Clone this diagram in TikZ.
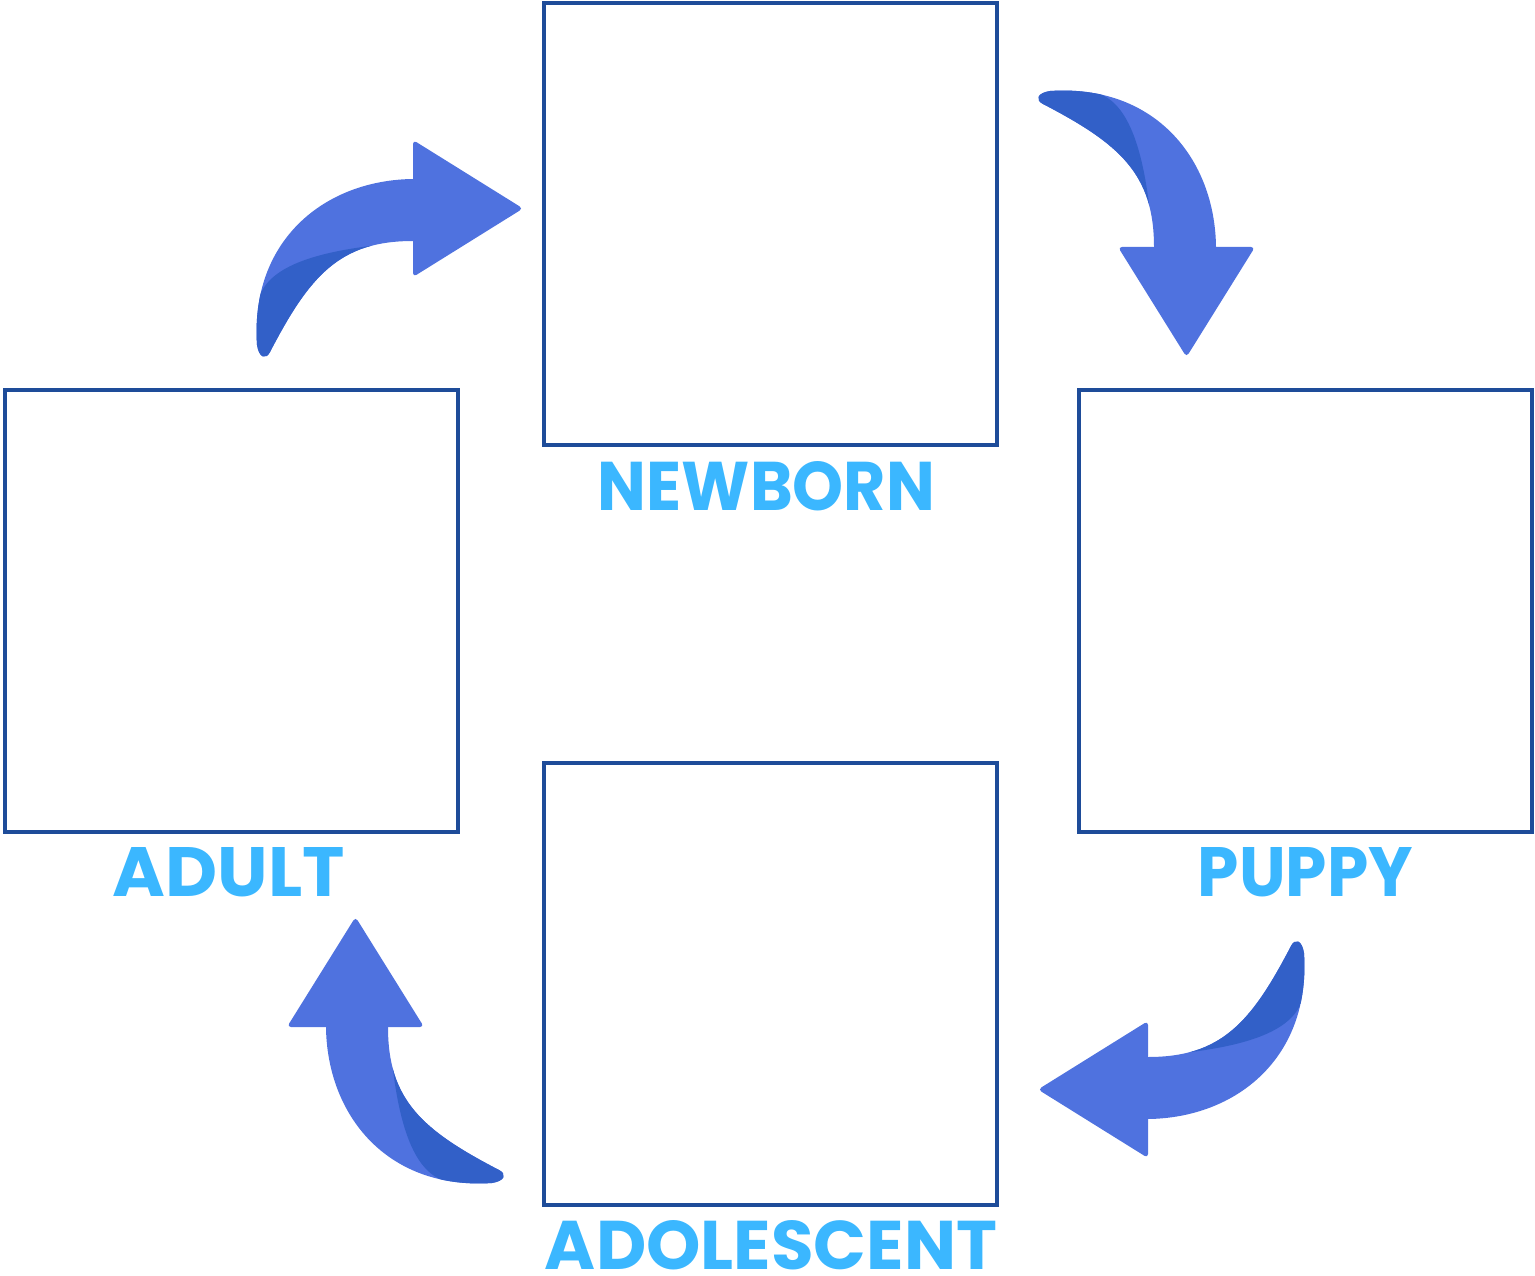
\documentclass[tikz,border=0pt]{standalone}
\usepackage{fontspec}
\setmainfont{Poppins}
\usepackage{graphicx}
\definecolor{arrowlight}{HTML}{4F72DF}
\definecolor{arrowdark}{HTML}{3260C8}
\definecolor{labelblue}{HTML}{3BB7FF}
\definecolor{boxblue}{HTML}{1E4C99}
\newcommand\lifeshaft{(257,345) .. controls (250,240) and (325,180) .. (413,179) -- (420,179) -- (420,241) -- (413,241) .. controls (340,241) and (310,275) .. (270,352) .. controls (266,360) and (259,358) .. (257,345) -- cycle}
\newcommand\lifearrow{%
  \fill[arrowlight] \lifeshaft;
  \fill[arrowlight, rounded corners=4pt] (413,140) -- (523,208.5) -- (413,277) -- cycle;
  \begin{scope}
    \clip \lifeshaft;
    \fill[arrowdark] (400,246) -- (374,245.5) .. controls (295,255) and (258,275) .. (257,310) -- (230,310) -- (230,400) -- (400,400) -- cycle;
  \end{scope}%
}
\tikzset{
  stagebox/.style={draw=boxblue, line width=4pt, fill=white, inner sep=0pt,
    minimum width=453pt, minimum height=442pt},
  stagelabel/.style={text=labelblue, inner sep=0pt, anchor=south, font=\bfseries}
}
\begin{document}
\begin{tikzpicture}[x=1pt, y=-1pt]
  \useasboundingbox (0,0) rectangle (1535,1276);
  % boxes
  \node[stagebox] (newborn) at (770.5,224) {};
  \node[stagebox] (adult) at (231.5,610.5) {};
  \node[stagebox] (puppy) at (1305.5,610.5) {};
  \node[stagebox] (adolescent) at (770.5,984) {};
  % labels
  \node[stagelabel] (newbornlbl) at (766.5,511) {\resizebox{337pt}{49pt}{NEWBORN}};
  \node[stagelabel] (adultlbl) at (229,897) {\resizebox{232pt}{49pt}{ADULT}};
  \node[stagelabel] (puppylbl) at (1305.5,897) {\resizebox{215pt}{49pt}{PUPPY}};
  \node[stagelabel] (adolescentlbl) at (771,1270) {\resizebox{452pt}{49pt}{ADOLESCENT}};
  % arrows
  \begin{scope}
    \lifearrow
  \end{scope}
  \begin{scope}[shift={(1395,-166)}, rotate=-90]
    \lifearrow
  \end{scope}
  \begin{scope}[shift={(1561,1298)}, rotate=180]
    \lifearrow
  \end{scope}
  \begin{scope}[shift={(147,1440)}, rotate=90]
    \lifearrow
  \end{scope}
\end{tikzpicture}
\end{document}
